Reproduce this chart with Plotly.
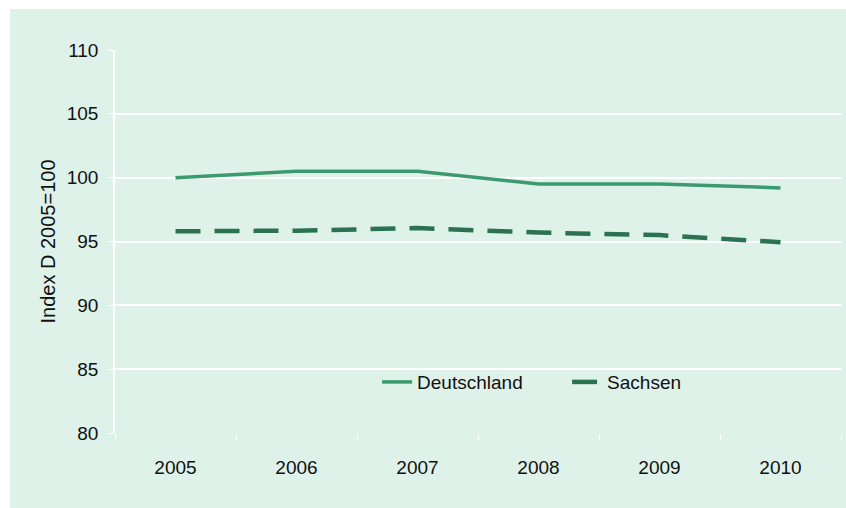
"""Index D 2005=100: Deutschland vs. Sachsen, 2005-2010."""

import plotly.graph_objects as go

JAHRE = ["2005", "2006", "2007", "2008", "2009", "2010"]
DEUTSCHLAND = [100.0, 100.5, 100.5, 99.5, 99.5, 99.2]
SACHSEN = [95.8, 95.85, 96.05, 95.7, 95.5, 94.95]
Y_TICKS = [80, 85, 90, 95, 100, 105, 110]

HINTERGRUND = "#dff2ea"
GRUEN_HELL = "#3b9a6f"
GRUEN_DUNKEL = "#2a7251"
SCHRIFT = "Liberation Sans, Arial, sans-serif"

figura = go.Figure()
figura.add_trace(
    go.Scatter(
        x=JAHRE,
        y=DEUTSCHLAND,
        mode="lines",
        name="Deutschland",
        line={"color": GRUEN_HELL, "width": 3.5},
    )
)
figura.add_trace(
    go.Scatter(
        x=JAHRE,
        y=SACHSEN,
        mode="lines",
        name="Sachsen",
        line={"color": GRUEN_DUNKEL, "width": 4.5, "dash": "25px,14px"},
    )
)

# gruene Flaeche hinter dem gesamten Diagramm (weisser Rand oben/links)
figura.add_shape(
    type="rect",
    xref="paper",
    yref="paper",
    x0=-0.1446,
    x1=1.01,
    y0=-0.2,
    y1=1.107,
    fillcolor=HINTERGRUND,
    line={"width": 0},
    layer="below",
)

figura.update_layout(
    width=846,
    height=508,
    margin={"l": 115, "r": 5, "t": 50, "b": 75},
    paper_bgcolor="white",
    plot_bgcolor=HINTERGRUND,
    font={"family": SCHRIFT, "size": 19, "color": "#111111"},
    showlegend=True,
    legend={
        "orientation": "h",
        "x": 0.361,
        "y": 0.133,
        "xanchor": "left",
        "yanchor": "middle",
        "bgcolor": "rgba(0,0,0,0)",
        "font": {"size": 19},
        "entrywidth": 145,
        "entrywidthmode": "pixels",
    },
)
figura.update_xaxes(
    type="category",
    range=[-0.5, 5.5],
    showgrid=False,
    showline=False,
    ticks="outside",
    tickson="boundaries",
    ticklen=6,
    tickcolor="white",
    ticklabelstandoff=21,
    zeroline=False,
)
figura.update_yaxes(
    range=[80, 110],
    tickvals=Y_TICKS,
    showgrid=True,
    gridcolor="white",
    gridwidth=1.5,
    showline=True,
    linecolor="white",
    linewidth=1.5,
    ticks="outside",
    ticklen=5,
    tickcolor="white",
    ticklabelstandoff=6,
    zeroline=False,
    title={"text": "Index D 2005=100", "font": {"size": 20}, "standoff": 6},
)

figura.write_html(
    "out.html",
    config={"displayModeBar": False},
    post_script="document.body.style.margin='0';",
)
